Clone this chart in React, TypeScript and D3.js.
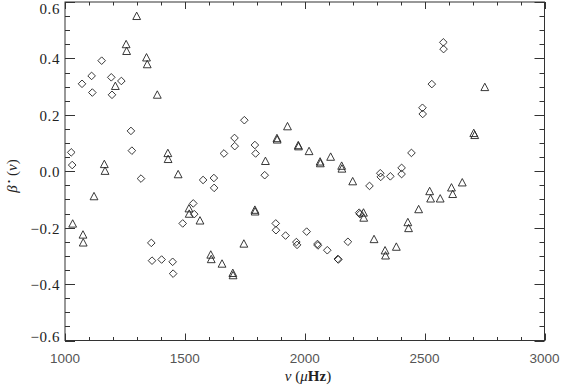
import React from "react";
import * as d3 from "d3";

const diamondX = [1026,1030,1071,1111,1114,1153,1193,1196,1235,1275,1279,1317,1360,1363,1403,1449,1451,1491,1535,1539,1576,1621,1622,1663,1707,1708,1748,1792,1795,1833,1879,1880,1920,1965,1968,2008,2053,2055,2094,2138,2140,2180,2227,2230,2270,2315,2317,2357,2404,2404,2445,2491,2492,2530,2578,2579];
const diamondY = [0.067,0.022,0.310,0.338,0.279,0.392,0.333,0.271,0.320,0.143,0.073,-0.026,-0.254,-0.317,-0.313,-0.321,-0.363,-0.185,-0.114,-0.152,-0.031,-0.024,-0.059,0.063,0.118,0.089,0.181,0.093,0.063,-0.014,-0.185,-0.209,-0.228,-0.251,-0.261,-0.214,-0.258,-0.263,-0.280,-0.311,-0.313,-0.250,-0.147,-0.152,-0.052,-0.007,-0.020,-0.018,0.012,-0.010,0.065,0.225,0.203,0.309,0.457,0.433];

const triangleX = [1032,1075,1076,1121,1164,1167,1210,1255,1257,1299,1340,1343,1385,1429,1430,1472,1517,1518,1563,1608,1610,1655,1700,1701,1746,1792,1793,1836,1884,1885,1928,1973,1974,2018,2064,2065,2108,2154,2155,2200,2245,2246,2289,2335,2337,2382,2430,2433,2475,2521,2525,2565,2612,2617,2657,2705,2709,2751];
const triangleY = [-0.185,-0.224,-0.252,-0.088,0.026,0.002,0.303,0.451,0.427,0.551,0.404,0.380,0.272,0.065,0.044,-0.010,-0.131,-0.150,-0.174,-0.295,-0.311,-0.327,-0.360,-0.368,-0.256,-0.136,-0.142,0.037,0.118,0.113,0.160,0.093,0.089,0.072,0.035,0.029,0.052,0.020,0.010,-0.035,-0.146,-0.164,-0.240,-0.280,-0.298,-0.267,-0.180,-0.201,-0.134,-0.070,-0.096,-0.096,-0.057,-0.080,-0.039,0.136,0.129,0.299];

const xMajor = [1000, 1500, 2000, 2500, 3000];
const xMinor = d3.range(1000, 3001, 100);
const yMajor = [-0.6, -0.4, -0.2, 0.0, 0.2, 0.4, 0.6];
const yMinor = d3.range(-12, 13).map((i) => i * 0.05);

const W = 562, H = 386;
const L = 65, R = 544.5, T = 2, B = 340.5;
const SERIF = "'Liberation Serif', 'Times New Roman', serif";
const SANS = "'Liberation Sans', Arial, sans-serif";

export default function App() {
  const x = d3.scaleLinear().domain([1000, 3000]).range([L, R]);
  const y = d3.scaleLinear().domain([-0.6, 0.6]).range([B, T]);
  const col = "#333";
  const isMajorX = (v: number) => xMajor.some((m) => Math.abs(m - v) < 1e-6);
  const isMajorY = (v: number) => yMajor.some((m) => Math.abs(m - v) < 1e-6);
  const fmtY = (v: number) => (v < 0 ? "\u2212" : "") + Math.abs(v).toFixed(1);
  const labelBase = (v: number) => Math.min(Math.max(y(v) + 6, 14), 342);
  const ds = 3.8;
  const diamond = `M0,${-ds}L${ds},0L0,${ds}L${-ds},0Z`;
  const tri = `M0,-3.7L3.9,3.7L-3.9,3.7Z`;
  return (
    <svg width={W} height={H} style={{ position: "absolute", left: 0, top: 0, background: "#fff" }}>
      <rect x={0} y={0} width={W} height={H} fill="#fff" />
      <rect x={L} y={T} width={R - L} height={B - T} fill="none" stroke={col} strokeWidth={1} />
      {xMinor.map((v, i) => {
        const len = isMajorX(v) ? 7 : 3.5;
        const px = Math.round(x(v)) + 0.5;
        return (
          <g key={"xt" + i}>
            <line x1={px} x2={px} y1={B} y2={B - len} stroke={col} strokeWidth={1} />
            <line x1={px} x2={px} y1={T} y2={T + len} stroke={col} strokeWidth={1} />
          </g>
        );
      })}
      {yMinor.map((v, i) => {
        const len = isMajorY(v) ? 10 : 5;
        const py = Math.round(y(v)) + 0.5;
        return (
          <g key={"yt" + i}>
            <line x1={L} x2={L + len} y1={py} y2={py} stroke={col} strokeWidth={1} />
            <line x1={R} x2={R - len} y1={py} y2={py} stroke={col} strokeWidth={1} />
          </g>
        );
      })}
      {xMajor.map((v) => (
        <text key={"xl" + v} x={x(v)} y={363} textAnchor="middle" fontFamily={SANS} fontSize={13.5} fill="#555">
          {v}
        </text>
      ))}
      {yMajor.map((v) => (
        <text key={"yl" + v} x={60} y={labelBase(v)} textAnchor="end" fontFamily={SERIF} fontSize={15} letterSpacing={0.6} fill="#222">
          {fmtY(v)}
        </text>
      ))}
      <text x={308} y={381} textAnchor="middle" fontFamily={SERIF} fontSize={15} fill="#222">
        <tspan fontStyle="italic">ν</tspan>
        <tspan> (</tspan>
        <tspan fontStyle="italic">μ</tspan>
        <tspan fontWeight="bold">Hz</tspan>
        <tspan>)</tspan>
      </text>
      <text transform="translate(17,176) rotate(-90)" textAnchor="middle" fontFamily={SERIF} fontSize={15} fill="#222">
        <tspan fontStyle="italic">β</tspan>
        <tspan fontSize={9} dy={-5}> •</tspan>
        <tspan dy={5}> (</tspan>
        <tspan fontStyle="italic">ν</tspan>
        <tspan>)</tspan>
      </text>
      <g fill="none" stroke="#222" strokeWidth={0.9}>
        {diamondX.map((v, i) => (
          <path key={"d" + i} d={diamond} transform={`translate(${x(v)},${y(diamondY[i])})`} />
        ))}
        {triangleX.map((v, i) => (
          <path key={"t" + i} d={tri} transform={`translate(${x(v)},${y(triangleY[i])})`} />
        ))}
      </g>
    </svg>
  );
}
